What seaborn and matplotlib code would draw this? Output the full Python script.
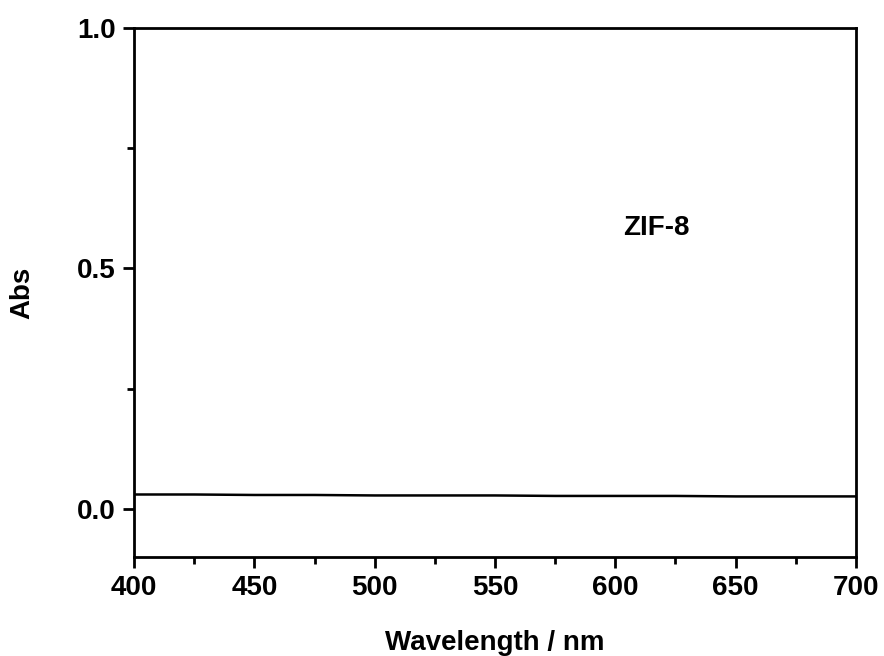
import matplotlib
matplotlib.use("Agg")
import matplotlib.pyplot as plt
import seaborn as sns
import pandas as pd
from matplotlib.ticker import MultipleLocator, FormatStrFormatter

# spectrum
wavelength = [400, 425, 450, 475, 500, 525, 550, 575, 600, 625, 650, 675, 700]
absorbance = [0.030, 0.030, 0.029, 0.029, 0.028, 0.028, 0.028, 0.027, 0.027, 0.027, 0.026, 0.026, 0.026]
sample_label = "ZIF-8"

sns.set_style("ticks")
plt.rcParams.update({
    'font.family': ['Liberation Sans', 'DejaVu Sans'],
    'font.weight': 'bold',
    'axes.labelweight': 'bold',
    'text.color': 'black',
    'axes.labelcolor': 'black',
    'axes.edgecolor': 'black',
    'xtick.color': 'black',
    'ytick.color': 'black',
    'axes.linewidth': 2,
    'xtick.major.width': 2,
    'ytick.major.width': 2,
    'xtick.minor.width': 2,
    'ytick.minor.width': 2,
    'xtick.major.size': 8,
    'ytick.major.size': 8,
    'xtick.minor.size': 5,
    'ytick.minor.size': 5,
    'xtick.direction': 'out',
    'ytick.direction': 'out',
})

df = pd.DataFrame({'Wavelength': wavelength, 'Abs': absorbance})

fig = plt.figure(figsize=(8.84, 6.56), dpi=100)
ax = fig.add_axes([0.1516, 0.1509, 0.8167, 0.8064])
sns.lineplot(data=df, x='Wavelength', y='Abs', ax=ax, color='black', linewidth=1.8)

ax.set_xlim(400, 700)
ax.set_ylim(-0.1, 1.0)
ax.xaxis.set_major_locator(MultipleLocator(50))
ax.xaxis.set_minor_locator(MultipleLocator(25))
ax.yaxis.set_major_locator(MultipleLocator(0.5))
ax.yaxis.set_minor_locator(MultipleLocator(0.25))
ax.yaxis.set_major_formatter(FormatStrFormatter('%.1f'))
ax.tick_params(labelsize=20, pad=5)
for lbl in ax.get_xticklabels() + ax.get_yticklabels():
    lbl.set_fontweight('bold')

ax.set_xlabel('Wavelength / nm', fontsize=20, fontweight='bold', labelpad=21)
ax.set_ylabel('Abs', fontsize=20, fontweight='bold', labelpad=30)
ax.text(617, 0.585, sample_label, fontsize=20, fontweight='bold', ha='center', va='center')

for s in ax.spines.values():
    s.set_visible(True)
    s.set_linewidth(2)

fig.savefig('out.png', dpi=100)
